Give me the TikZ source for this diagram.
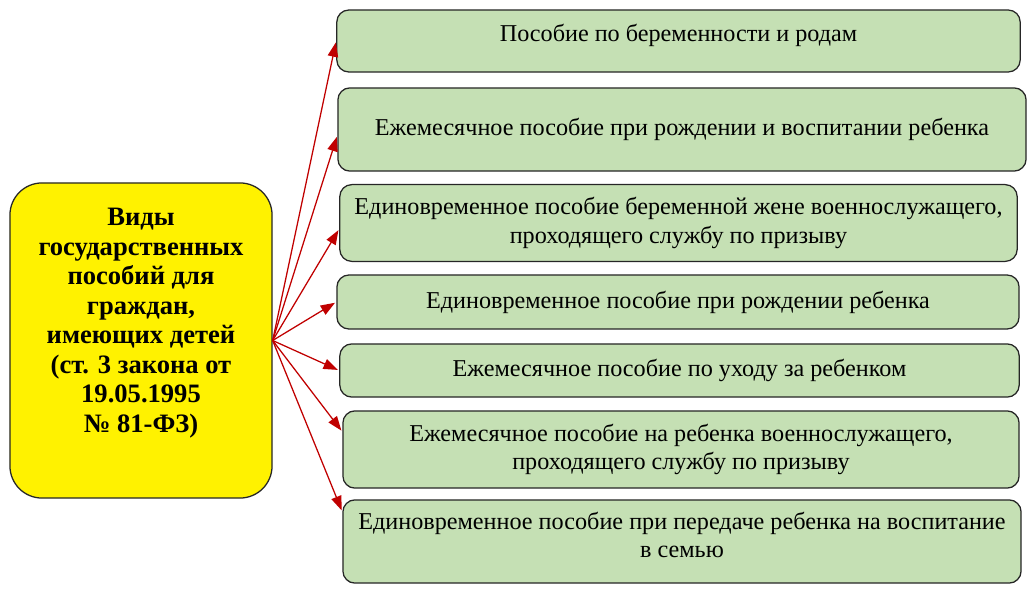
\documentclass[tikz,border=0pt]{standalone}
\usepackage{fontspec}
\setmainfont{Liberation Serif}
\usetikzlibrary{arrows.meta}

\definecolor{benefitgreen}{HTML}{C5E0B4}
\definecolor{arrowred}{HTML}{C00000}

\begin{document}
\begin{tikzpicture}[x=0.025cm, y=-0.025cm]
    \tikzset{
      benefit/.style = { draw = black!85, line width = 0.9pt, fill = benefitgreen, rounded corners = 0.3cm,
                         align = center, font = \fontsize{17.2}{20}\selectfont, inner sep = 0pt },
      pointer/.style = { arrowred, line width = 0.9pt, -{Triangle[length = 0.36cm, width = 0.26cm]}, shorten > = 1pt },
    }
    \useasboundingbox (0,0) rectangle (1034,592);

    % left block
    \node[draw = black!85, line width = 0.9pt, fill = yellow, rounded corners = 0.8cm,
          minimum width = 6.55cm, minimum height = 7.875cm] (kinds) at (141,340.5) {};
    \node[align = center, font = \fontsize{18.9}{21}\selectfont\bfseries] (kinds text) at (141,323)
        {Виды\\государственных\\пособий для\\граждан,\\имеющих детей\\(ст. 3 закона от\\19.05.1995\\№ 81-ФЗ)};

    % benefits
    \node[benefit, minimum width = 17.08cm, minimum height = 1.55cm, text depth = 11pt] (b1) at (678.5,41)
        {Пособие по беременности и родам};
    \node[benefit, minimum width = 17.2cm, minimum height = 2.08cm] (b2) at (682,129.5)
        {Ежемесячное пособие при рождении и воспитании ребенка};
    \node[benefit, minimum width = 16.93cm, minimum height = 1.92cm] (b3) at (678.5,223)
        {Единовременное пособие беременной жене военнослужащего,\\проходящего службу по призыву};
    \node[benefit, minimum width = 17.05cm, minimum height = 1.35cm] (b4) at (678,302)
        {Единовременное пособие при рождении ребенка};
    \node[benefit, minimum width = 16.98cm, minimum height = 1.33cm] (b5) at (679.5,370.5)
        {Ежемесячное пособие по уходу за ребенком};
    \node[benefit, minimum width = 16.9cm, minimum height = 1.93cm] (b6) at (681,449.5)
        {Ежемесячное пособие на ребенка военнослужащего,\\проходящего службу по призыву};
    \node[benefit, minimum width = 16.95cm, minimum height = 2.08cm, text depth = 10pt] (b7) at (682,541.5)
        {Единовременное пособие при передаче ребенка на воспитание\\в семью};

    \foreach \b/\a in {b1/180, b2/181, b3/181.5, b4/180, b5/180, b6/177.9, b7/175.1}
        \draw[pointer] (kinds.east) -- (\b.\a);
\end{tikzpicture}
\end{document}
